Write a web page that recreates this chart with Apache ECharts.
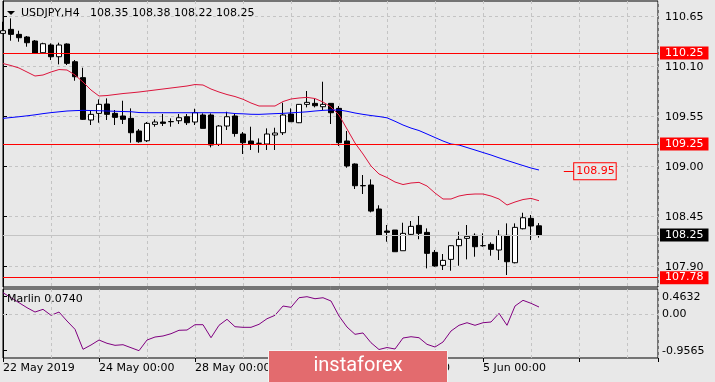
<!DOCTYPE html>
<html><head><meta charset="utf-8">
<script src="https://cdn.jsdelivr.net/npm/echarts@6/dist/echarts.min.js"></script>
<style>html,body{margin:0;padding:0;background:#e8e8e8}#c{width:715px;height:382px}</style>
</head><body><div id="c"></div>
<script>
// ---- data ----
const symbolText = 'USDJPY,H4';
const ohlcText = '108.35 108.38 108.22 108.25';
const marlinText = 'Marlin 0.0740';
const openP = [110.467,110.511,110.456,110.427,110.383,110.254,110.339,110.210,110.350,110.155,
109.980,109.514,109.587,109.690,109.587,109.558,109.532,109.393,109.286,109.466,
109.492,109.497,109.506,109.550,109.492,109.569,109.569,109.246,109.448,109.558,
109.360,109.283,109.258,109.250,109.349,109.374,109.580,109.484,109.686,109.697,
109.660,109.697,109.642,109.283,109.030,108.793,108.799,108.535,108.293,108.304,
108.076,108.256,108.355,108.278,108.058,107.915,107.981,108.131,108.212,108.245,
108.132,108.146,108.084,108.245,107.944,108.318,108.432,108.35];
const closeP = [110.496,110.456,110.419,110.364,110.247,110.353,110.210,110.339,110.137,109.990,
109.521,109.576,109.686,109.576,109.543,109.521,109.374,109.275,109.477,109.492,
109.477,109.495,109.539,109.484,109.594,109.422,109.239,109.448,109.550,109.365,
109.264,109.250,109.257,109.360,109.371,109.569,109.495,109.686,109.708,109.671,
109.686,109.594,109.264,109.008,108.791,108.790,108.512,108.249,108.278,108.065,
108.267,108.344,108.267,108.047,107.908,107.970,108.131,108.201,108.234,108.120,
108.131,108.091,108.245,107.955,108.333,108.439,108.348,108.25];
const lowP = [110.464,110.386,110.375,110.320,110.240,110.240,110.174,110.126,110.119,109.946,
109.514,109.459,109.484,109.514,109.459,109.470,109.264,109.264,109.272,109.440,
109.448,109.440,109.470,109.459,109.459,109.422,109.213,109.228,109.404,109.330,
109.140,109.184,109.154,109.184,109.184,109.349,109.492,109.480,109.653,109.653,
109.624,109.470,109.228,108.989,108.755,108.700,108.498,108.249,108.175,108.065,
108.076,108.245,108.202,107.882,107.900,107.864,107.856,107.911,107.981,108.010,
108.120,108.021,107.974,107.809,107.937,108.311,108.194,108.22];
const highP = [110.595,110.632,110.496,110.438,110.394,110.364,110.357,110.364,110.357,110.174,
110.089,109.624,109.741,109.752,109.624,109.726,109.642,109.415,109.492,109.521,
109.580,109.532,109.580,109.580,109.638,109.587,109.587,109.459,109.605,109.580,
109.382,109.440,109.312,109.422,109.429,109.704,109.642,109.690,109.833,109.745,
109.935,109.701,109.668,109.393,109.037,108.909,108.861,108.576,108.359,108.304,
108.384,108.403,108.458,108.322,108.084,108.040,108.135,108.285,108.359,108.267,
108.267,108.168,108.303,108.377,108.377,108.494,108.469,108.38];
const maRed = [110.135,110.113,110.086,110.042,109.998,110.009,110.042,110.069,110.064,110.009,
109.932,109.844,109.778,109.783,109.794,109.805,109.813,109.822,109.833,109.844,
109.855,109.866,109.877,109.888,109.904,109.899,109.855,109.822,109.794,109.772,
109.742,109.701,109.668,109.668,109.668,109.717,109.745,109.756,109.763,109.750,
109.712,109.657,109.569,109.415,109.261,109.140,109.008,108.920,108.881,108.832,
108.804,108.821,108.828,108.788,108.711,108.645,108.645,108.678,108.694,108.700,
108.700,108.678,108.645,108.579,108.612,108.639,108.652,108.626];
const maBlue = [109.532,109.541,109.550,109.560,109.571,109.584,109.595,109.604,109.613,109.617,
109.620,109.618,109.616,109.613,109.610,109.607,109.605,109.596,109.594,109.594,
109.594,109.594,109.594,109.594,109.594,109.594,109.594,109.594,109.594,109.585,
109.582,109.577,109.576,109.580,109.584,109.587,109.593,109.598,109.604,109.613,
109.620,109.624,109.624,109.610,109.591,109.576,109.563,109.552,109.538,109.500,
109.459,109.425,109.398,109.360,109.321,109.283,109.250,109.239,109.211,109.184,
109.156,109.129,109.098,109.069,109.041,109.013,108.986,108.964];
const marlin = [0.568,0.436,0.305,0.174,0.060,0.131,-0.026,0.060,-0.176,-0.394,
-0.920,-0.807,-0.676,-0.762,-0.815,-0.799,-0.878,-0.9565,-0.676,-0.597,
-0.570,-0.510,-0.420,-0.413,-0.273,-0.273,-0.615,-0.289,-0.131,-0.326,
-0.342,-0.342,-0.263,-0.116,-0.026,0.218,0.184,0.436,0.4632,0.410,
0.436,0.350,-0.045,-0.334,-0.526,-0.490,-0.747,-0.925,-0.873,-0.912,
-0.623,-0.589,-0.615,-0.789,-0.860,-0.728,-0.439,-0.289,-0.221,-0.289,
-0.221,-0.202,0.026,-0.289,0.218,0.368,0.289,0.192];
const levels = [110.25, 109.25, 107.78];
const lastPrice = 108.25;
const targetPrice = 108.95;
const targetSpan = [70.1, 71.4];
const priceTicks = [107.90, 108.45, 109.00, 109.55, 110.10, 110.65];
const marlinTicks = [-0.9565, 0, 0.4632];
const dateTickIdx = [0, 12, 24, 36, 48, 60];
const dateTickText = ['22 May 2019', '24 May 00:00', '28 May 00:00', '30 May 00:00', '3 Jun 00:00', '5 Jun 00:00'];

// ---- chart ----
const font = 'DejaVu Sans';
const X0 = 0, X1 = 81.875;
const gridLine = {show: true, lineStyle: {color: '#c4c4c4', type: [3, 3], width: 1}};
const candles = openP.map((o, i) => [i, o, closeP[i], lowP[i], highP[i]]);
const chart = echarts.init(document.getElementById('c'));

const boxLabel = (txt, bg) => ({show: true, position: 'end', distance: 2, formatter: txt, color: '#fff',
  backgroundColor: bg, padding: [1, 5, 0, 5], lineHeight: 12, fontSize: 11, fontFamily: font});
const levelLines = levels.map(v => ({
  yAxis: v, lineStyle: {color: '#ff0000', width: 1, type: 'solid', opacity: 1}, label: boxLabel(v.toFixed(2), '#ff0000')
}));
const lastLine = [{yAxis: lastPrice, lineStyle: {color: '#c4c4c4', width: 1, type: 'solid'}, label: boxLabel(lastPrice.toFixed(2), '#000')}];

chart.setOption({
  animation: false,
  backgroundColor: '#e8e8e8',
  textStyle: {fontFamily: font},
  grid: [
    {left: 3, top: 1, width: 655, height: 286, show: true, borderColor: '#000', borderWidth: 1, backgroundColor: 'transparent'},
    {left: 3, top: 289, width: 655, height: 69, show: true, borderColor: '#000', borderWidth: 1, backgroundColor: 'transparent'}
  ],
  xAxis: [
    {type: 'value', gridIndex: 0, min: X0, max: X1, interval: 6, splitLine: gridLine,
      axisLine: {show: false}, axisTick: {show: false}, axisLabel: {show: false}},
    {type: 'value', gridIndex: 1, min: X0, max: X1, interval: 6, splitLine: gridLine,
      axisLine: {show: false}, axisTick: {show: false}, axisLabel: {show: false}},
    {type: 'value', gridIndex: 1, position: 'bottom', min: X0, max: X1, interval: 12,
      splitLine: {show: false}, axisLine: {show: false},
      axisTick: {show: true, length: 4, lineStyle: {color: '#000'}},
      axisLabel: {show: true, align: 'left', margin: 5, color: '#000', fontSize: 11, fontFamily: font,
        formatter: v => { const k = dateTickIdx.indexOf(Math.round(v)); return k >= 0 ? dateTickText[k] : ''; }}}
  ],
  yAxis: [
    {type: 'value', gridIndex: 0, position: 'right', min: 107.677, max: 110.823,
      axisLine: {show: true, lineStyle: {color: '#000'}},
      axisTick: {show: true, length: 4, customValues: priceTicks, lineStyle: {color: '#000'}},
      axisLabel: {show: true, customValues: priceTicks, formatter: v => v.toFixed(2), color: '#000', fontSize: 11, fontFamily: font, margin: 7},
      splitLine: gridLine},
    {type: 'value', gridIndex: 1, position: 'right', min: -1.1484, max: 0.6656,
      axisLine: {show: true, lineStyle: {color: '#000'}},
      axisTick: {show: true, length: 4, customValues: marlinTicks, lineStyle: {color: '#000'}},
      axisLabel: {show: true, customValues: marlinTicks, formatter: v => (v === 0 ? '0.00' : v.toFixed(4)), color: '#000', fontSize: 11, fontFamily: font, margin: 4},
      splitLine: {show: false}}
  ],
  series: [
    {type: 'line', xAxisIndex: 0, yAxisIndex: 0, data: [], z: 1,
      markLine: {silent: true, symbol: 'none', animation: false, data: lastLine}},
    {type: 'candlestick', xAxisIndex: 0, yAxisIndex: 0, data: candles, barWidth: 5, clip: true, z: 2,
      itemStyle: {color: '#fff', color0: '#000', borderColor: '#000', borderColor0: '#000', borderColorDoji: '#000', borderWidth: 1}},
    {type: 'line', xAxisIndex: 0, yAxisIndex: 0, data: maRed.map((v, i) => [i, v]), showSymbol: false, symbol: 'none',
      lineStyle: {color: '#dc143c', width: 1}, itemStyle: {color: '#dc143c'}, z: 3},
    {type: 'line', xAxisIndex: 0, yAxisIndex: 0, data: maBlue.map((v, i) => [i, v]), showSymbol: false, symbol: 'none',
      lineStyle: {color: '#0000ff', width: 1}, itemStyle: {color: '#0000ff'}, z: 3},
    {type: 'line', xAxisIndex: 0, yAxisIndex: 0, data: [], z: 4,
      markLine: {silent: true, symbol: 'none', animation: false, data: levelLines.concat([[
        {coord: [targetSpan[0], targetPrice], lineStyle: {color: '#ff0000', width: 1, type: 'solid'}},
        {coord: [targetSpan[1], targetPrice], label: {show: true, position: 'end', distance: 0,
          formatter: targetPrice.toFixed(2), color: '#ff0000', backgroundColor: '#e8e8e8',
          borderColor: '#ff0000', borderWidth: 1, padding: [2, 1, 1, 2], lineHeight: 13, fontSize: 11, fontFamily: font}}
      ]])}},
    {type: 'line', xAxisIndex: 1, yAxisIndex: 1, data: marlin.map((v, i) => [i, v]), showSymbol: false, symbol: 'none',
      lineStyle: {color: '#800080', width: 1}, itemStyle: {color: '#800080'},
      markLine: {silent: true, symbol: 'none', label: {show: false},
        data: [{yAxis: 0, lineStyle: {color: '#c4c4c4', type: [3, 3], width: 1}}]}}
  ],
  graphic: [
    {type: 'polygon', shape: {points: [[7, 11], [15, 11], [11, 15]]}, style: {fill: '#000'}, z: 100},
    {type: 'text', x: 21, y: 13, style: {text: symbolText + '   ' + ohlcText, fill: '#000', font: '11px "DejaVu Sans"', align: 'left', verticalAlign: 'middle'}, z: 100},
    {type: 'text', x: 7, y: 299, style: {text: marlinText, fill: '#000', font: '11px "DejaVu Sans"', align: 'left', verticalAlign: 'middle'}, z: 100},
    {type: 'rect', shape: {x: 268.5, y: 350.5, width: 179, height: 34}, style: {fill: '#e36b6e', stroke: '#f4f4f4', lineWidth: 1}, z: 200},
    {type: 'text', x: 358, y: 366, style: {text: 'instaforex', fill: '#fff', font: '20px Roboto', align: 'center', verticalAlign: 'middle'}, z: 201}
  ]
});
</script>
</body></html>
